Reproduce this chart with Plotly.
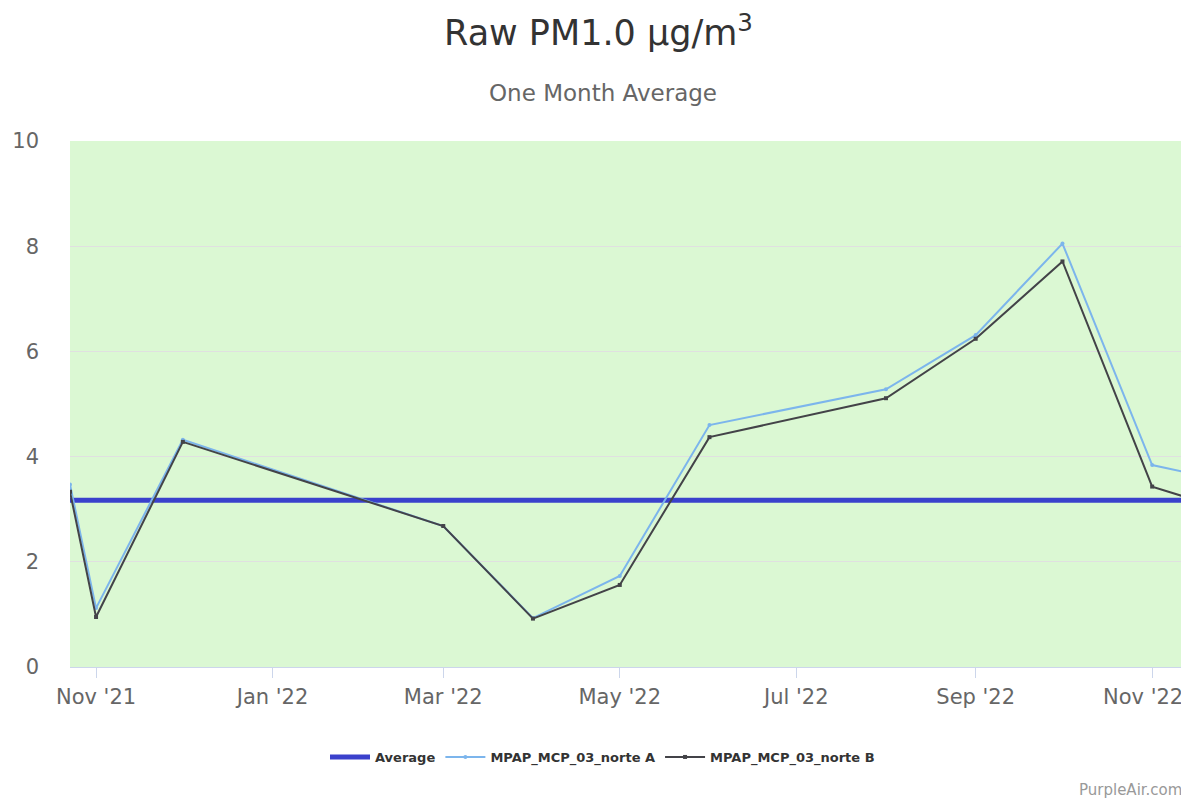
import plotly.graph_objects as go

# Kuupäevad ja väärtused (loetud pildilt)
dates = ["2021-10-23", "2021-11-01", "2021-12-01", "2022-03-01", "2022-04-01",
         "2022-05-01", "2022-06-01", "2022-08-01", "2022-09-01", "2022-10-01",
         "2022-11-01", "2022-11-12"]
sensor_a = [3.47, 1.12, 4.32, 2.68, 0.93, 1.73, 4.60, 5.28, 6.31, 8.05, 3.84, 3.71]
sensor_b = [3.33, 0.95, 4.28, 2.68, 0.92, 1.56, 4.37, 5.11, 6.24, 7.71, 3.43, 3.24]
average_value = 3.17

tick_dates = ["2021-11-01", "2022-01-01", "2022-03-01", "2022-05-01",
              "2022-07-01", "2022-09-01", "2022-11-01"]
tick_labels = ["Nov '21", "Jan '22", "Mar '22", "May '22", "Jul '22", "Sep '22", "Nov '22"]

font = "DejaVu Sans"

# lehe body-l on 8px veeris, seega joonis on 8px võrra väiksem
W, H = 1181, 792
ML, MR, MT, MB = 62, 5, 133, 133
plot_h = H - MT - MB
plot_w = W - ML - MR
center_x = (W / 2 + 4 - ML) / plot_w  # lehe keskkoht paberi koordinaatides

fig = go.Figure()

fig.add_trace(go.Scatter(
    x=[dates[0], dates[-1]], y=[average_value, average_value],
    name="Average", mode="lines",
    line=dict(color="#3a41cc", width=5),
    hoverinfo="skip"
))
fig.add_trace(go.Scatter(
    x=dates, y=sensor_a, name="MPAP_MCP_03_norte A",
    mode="lines+markers",
    line=dict(color="#7cb5ec", width=2),
    marker=dict(size=4, color="#7cb5ec")
))
fig.add_trace(go.Scatter(
    x=dates, y=sensor_b, name="MPAP_MCP_03_norte B",
    mode="lines+markers",
    line=dict(color="#434348", width=2),
    marker=dict(size=4, color="#434348", symbol="square")
))

# viimane silt nihutatakse vasakule nagu originaalis
axis_text = tick_labels[:-1] + [""]

fig.update_layout(
    width=W, height=H,
    margin=dict(l=ML, r=MR, t=MT, b=MB),
    paper_bgcolor="white",
    plot_bgcolor="#dbf8d3",
    font=dict(family=font, color="#666666"),
    title=dict(
        text="Raw PM1.0 µg/m<sup>3</sup>",
        x=0.5, xanchor="center", y=1 - 25 / H, yanchor="middle",
        font=dict(size=35, color="#333333", family=font)
    ),
    showlegend=True,
    legend=dict(
        orientation="h", x=center_x, xanchor="center",
        y=(H - 749 - MB) / plot_h, yanchor="middle",
        font=dict(size=13, color="#333333", family=font, weight="bold"),
        itemwidth=40,
    ),
    xaxis=dict(
        type="date",
        range=[dates[0], dates[-1]],
        tickvals=tick_dates, ticktext=axis_text,
        ticks="outside", ticklen=10, tickcolor="#ccd6eb", tickwidth=1,
        showline=True, linecolor="#ccd6eb", linewidth=1,
        showgrid=False, zeroline=False,
        tickfont=dict(size=21, color="#666666"),
        ticklabelstandoff=1
    ),
    yaxis=dict(
        range=[0, 10], dtick=2,
        showgrid=True, gridcolor="#e0e0e0", gridwidth=1,
        zeroline=False, showline=False, ticks="",
        tickfont=dict(size=21, color="#666666"),
        ticklabelstandoff=30
    ),
    annotations=[
        dict(text="One Month Average", xref="paper", yref="paper",
             x=center_x, y=(H - 85 - MB) / plot_h, xanchor="center", yanchor="middle",
             showarrow=False, font=dict(size=23, color="#666666", family=font)),
        dict(text=tick_labels[-1], xref="x", yref="paper",
             x=tick_dates[-1], y=(H - 689 - MB) / plot_h,
             xanchor="center", yanchor="middle", xshift=-9,
             showarrow=False, font=dict(size=21, color="#666666", family=font)),
        dict(text="PurpleAir.com", xref="paper", yref="paper",
             x=1.0, y=(H - 782 - MB) / plot_h,
             xanchor="right", yanchor="middle",
             showarrow=False, font=dict(size=15, color="#999999", family=font))
    ]
)

fig.write_html("out.html")
